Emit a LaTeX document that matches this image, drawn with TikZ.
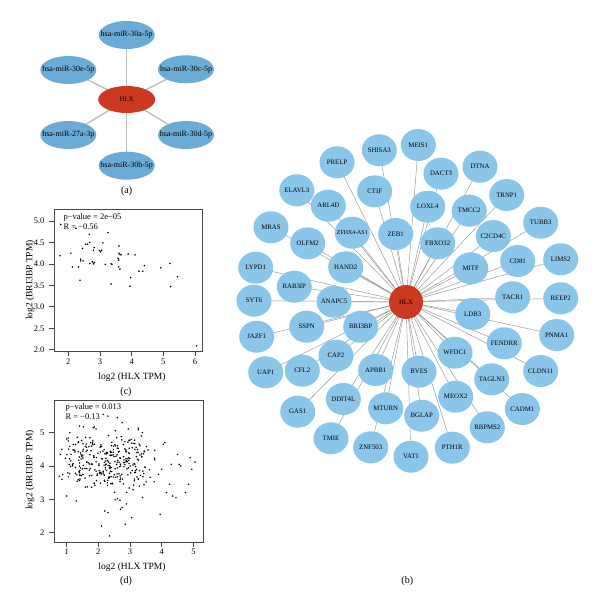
\documentclass[tikz,border=0pt]{standalone}
\usepackage{fontspec}
\setmainfont{Liberation Serif}
\usetikzlibrary{shapes.geometric, backgrounds}
\definecolor{mirblue}{RGB}{107,172,214}
\definecolor{geneblue}{RGB}{138,197,234}
\definecolor{hubred}{RGB}{203,58,32}
\definecolor{edgegray}{RGB}{150,150,150}
\definecolor{axisgray}{RGB}{70,70,70}

\begin{document}
\begin{tikzpicture}[
    x=1pt, y=-1pt,
    mirna/.style={ellipse, fill=mirblue, minimum width=56pt, minimum height=28pt, inner sep=0pt,
        label={[font=\fontsize{8}{9}\selectfont]center:#1}},
    hubA/.style={ellipse, fill=hubred, minimum width=57pt, minimum height=27pt, inner sep=0pt,
        font=\fontsize{6.8}{8}\selectfont},
    gene/.style={ellipse, fill=geneblue, minimum width=35pt, minimum height=32pt, inner sep=0pt,
        label={[font=\fontsize{6.8}{8}\selectfont]center:#1}},
    hubB/.style={circle, fill=hubred, minimum size=34pt, inner sep=0pt,
        font=\fontsize{6.8}{8}\selectfont},
    miredge/.style={draw=black!25, line width=1.4pt},
    geneedge/.style={draw=edgegray, line width=0.45pt},
    plotbox/.style={draw=axisgray, line width=0.7pt},
    dot/.style={fill=black},
    ticklab/.style={font=\fontsize{8.5}{10}\selectfont},
    statlab/.style={font=\fontsize{8.5}{9.5}\selectfont, anchor=west, align=left},
    axlab/.style={font=\fontsize{9.5}{11}\selectfont},
    panel/.style={font=\fontsize{10}{12}\selectfont}
]
    \begin{scope}[on background layer]
        \fill[white] (0,0) rectangle (600,607);
    \end{scope}
    \useasboundingbox (0,0) rectangle (600,607);

    % (a) HLX and its miRNAs
    \node[hubA] (hlxa) at (126.7,99.5) {HLX};
    \node[mirna=hsa-miR-30a-5p] (m30a) at (126.7,35) {};
    \node[mirna=hsa-miR-30e-5p] (m30e) at (68.3,70) {};
    \node[mirna=hsa-miR-30c-5p] (m30c) at (186,69.3) {};
    \node[mirna=hsa-miR-27a-3p] (m27a) at (68.3,135) {};
    \node[mirna=hsa-miR-30d-5p] (m30d) at (186,135) {};
    \node[mirna=hsa-miR-30b-5p] (m30b) at (126.7,165.7) {};
    \begin{scope}[on background layer]
        \foreach \m in {m30a,m30e,m30c,m27a,m30d,m30b}
            \draw[miredge] (hlxa.center) -- (\m.center);
    \end{scope}
    \node[panel] (pa) at (126.7,190.7) {(a)};

    % (b) co-expressed genes round HLX
    \node[hubB] (hlxb) at (406,302) {HLX};
    \foreach \nm/\px/\py/\txt in {
        prelp/337/162.3/PRELP, shisa3/379.3/150.3/SHISA3, meis1/418.3/145/MEIS1,
        dact3/441/173.7/DACT3, dtna/480/166.7/DTNA, ctif/374.7/191.3/CTIF,
        elavl3/296.8/190.3/ELAVL3, trnp1/506.7/195/TRNP1, arl4d/328.3/205.7/ARL4D,
        loxl4/427.7/206.7/LOXL4, tmcc2/469.3/210.7/TMCC2, mras/271/227.3/MRAS,
        tubb3/540.7/222.7/TUBB3, zeb1/395.7/234/ZEB1, olfm2/307.7/243.3/OLFM2,
        fbxo32/437.7/243.3/FBXO32, c2cd4c/493.3/236/C2CD4C, lypd1/255.7/267.7/LYPD1,
        hand2/345.7/267.3/HAND2, mitf/470.7/268.3/MITF, cd81/517.7/261/CD81,
        lims2/560.7/259.3/LIMS2, rab3ip/294.3/286.7/RAB3IP, syt6/254/300.7/SYT6,
        anapc5/334/301.7/ANAPC5, tacr1/512.7/297.3/TACR1, reep2/560.7/298.3/REEP2,
        ldb3/472.7/314/LDB3, sspn/306.7/326.7/SSPN, bri3bp/360.7/326.7/BRI3BP,
        jazf1/256.7/336.7/JAZF1, pnma1/556.7/335/PNMA1, fendrr/504.3/343.3/FENDRR,
        cap2/336/355.7/CAP2, wfdc1/455/352.7/WFDC1, uap1/265.7/372.3/UAP1,
        cfl2/302.3/370.7/CFL2, apbb1/375.7/370/APBB1, bves/419/371.7/BVES,
        cldn11/540.7/371/CLDN11, tagln3/491.7/379.3/TAGLN3, gas1/297.7/411.7/GAS1,
        ddit4l/343.3/399/DDIT4L, mturn/385.7/408.3/MTURN, bglap/421.7/415.7/BGLAP,
        meox2/455.7/396.7/MEOX2, cadm1/522.3/409/CADM1, rbpms2/487.3/427.3/RBPMS2,
        tmie/331/438.3/TMIE, znf503/370.7/447.3/ZNF503, vat1/411/456.7/VAT1,
        pth1r/452.3/447.7/PTH1R}
    {
        \node[gene=\txt] (\nm) at (\px,\py) {};
        \begin{scope}[on background layer]
            \draw[geneedge] (hlxb.center) -- (\nm.center);
        \end{scope}
    }
    \node[gene={\fontsize{5.9}{7}\selectfont ZFHX4-AS1}] (zfhx4) at (352.3,232.7) {};
    \begin{scope}[on background layer]
        \draw[geneedge] (hlxb.center) -- (zfhx4.center);
    \end{scope}
    \node[panel] (pb) at (407.3,581) {(b)};

    % (c) scatter, TCGA
    \draw[plotbox] (54,209) rectangle (202,351);
    \foreach \v in {2,...,6} {
        \draw[plotbox] ({4.97+31.67*\v},351) -- ++(0,5);
        \node[ticklab] at ({4.97+31.67*\v},362) {\v};
    }
    \foreach \v in {2.0,2.5,3.0,3.5,4.0,4.5,5.0} {
        \draw[plotbox] (49,{435.5-42.9*\v}) -- (54,{435.5-42.9*\v});
        \node[ticklab, anchor=east] at (48,{435.5-42.9*\v}) {\v};
    }
    \begin{scope}[shift={(4.97,435.5)}, x=31.67pt, y=42.9pt]
        \foreach \vx/\vy in {1.76/4.92, 2.24/4.83, 1.74/4.19, 2.08/4.25, 2.13/3.93,
            2.32/3.93, 2.37/3.62, 2.39/4.11, 2.39/4.07, 2.47/4.07, 2.45/4.36, 2.55/4.46,
            2.61/4.46, 2.66/4.69, 2.68/4.50, 2.68/4.01, 2.76/4.05, 2.79/4.00, 2.82/4.03,
            2.79/4.32, 2.82/4.38, 2.98/4.31, 3.02/4.28, 3.05/4.32, 3.09/4.49, 3.17/3.99,
            3.25/4.73, 3.35/4.00, 3.35/3.53, 3.38/3.99, 3.60/4.42, 3.60/4.25, 3.63/4.22,
            3.67/4.21, 3.57/4.13, 3.59/4.09, 3.59/3.93, 3.63/3.88, 3.89/4.23, 4.11/4.21,
            3.97/3.68, 3.95/3.48, 4.23/3.83, 4.35/3.83, 4.40/3.96, 4.92/3.91, 5.21/4.01,
            5.45/3.70, 5.23/3.47, 6.05/2.09}
            \fill[dot] (\vx,\vy) circle (0.9pt);
    \end{scope}
    \node[statlab] (statc) at (60,221.7) {p−value = 2e−05\\R = −0.56};
    \node[axlab] (xlabc) at (132,377.7) {log2 (HLX TPM)};
    \node[axlab, rotate=90] (ylabc) at (30,280) {log2 (BRI3BP TPM)};
    \node[panel] (pc) at (126,392) {(c)};

    % (d) scatter, GTEx
    \draw[plotbox] (54,400) rectangle (203,542);
    \foreach \v in {1,...,5} {
        \draw[plotbox] ({35.03+31.67*\v},542) -- ++(0,5);
        \node[ticklab] at ({35.03+31.67*\v},552) {\v};
    }
    \foreach \v in {2,...,5} {
        \draw[plotbox] (49,{599.2-33.3*\v}) -- (54,{599.2-33.3*\v});
        \node[ticklab, anchor=east] at (48,{599.2-33.3*\v}) {\v};
    }
    \begin{scope}[shift={(35.03,599.2)}, x=31.67pt, y=33.3pt]
        \pgfmathsetseed{4321}
        \foreach \i in {1,...,330} {
            \pgfmathsetmacro{\vx}{2.3+1.2*rand+0.35*rand}
            \pgfmathsetmacro{\vy}{4.1-0.1*(\vx-2.3)+0.48*(rand+rand+rand)}
            \fill[dot] (\vx,\vy) circle (0.85pt);
        }
        \foreach \vx/\vy in {4.1/4.7, 4.05/4.65, 4.3/4.05, 4.5/4.35, 4.55/4.05, 4.6/4.0,
            4.9/4.25, 5.05/4.12, 4.95/3.9, 4.85/3.45, 4.75/3.2, 4.35/3.1, 4.45/3.05,
            4.15/3.2, 4.25/3.45, 3.9/3.75, 4.0/3.9, 2.1/2.2, 2.35/1.9, 2.85/2.25,
            3.05/2.45, 3.95/2.55, 2.2/2.65, 2.3/2.6, 2.7/2.7, 2.75/2.75, 1.3/2.95,
            1.0/3.1, 0.85/3.6, 0.8/4.35, 0.85/4.5, 1.1/5.0, 2.3/5.5, 2.15/5.55,
            2.6/5.45, 2.75/5.3}
            \fill[dot] (\vx,\vy) circle (0.85pt);
    \end{scope}
    \node[statlab] (statd) at (62,411.5) {p−value = 0.013\\R = −0.13};
    \node[axlab] (xlabd) at (132,567.7) {log2 (HLX TPM)};
    \node[axlab, rotate=90] (ylabd) at (30,470) {log2 (BRI3BP TPM)};
    \node[panel] (pd) at (126,580.7) {(d)};
\end{tikzpicture}
\end{document}
